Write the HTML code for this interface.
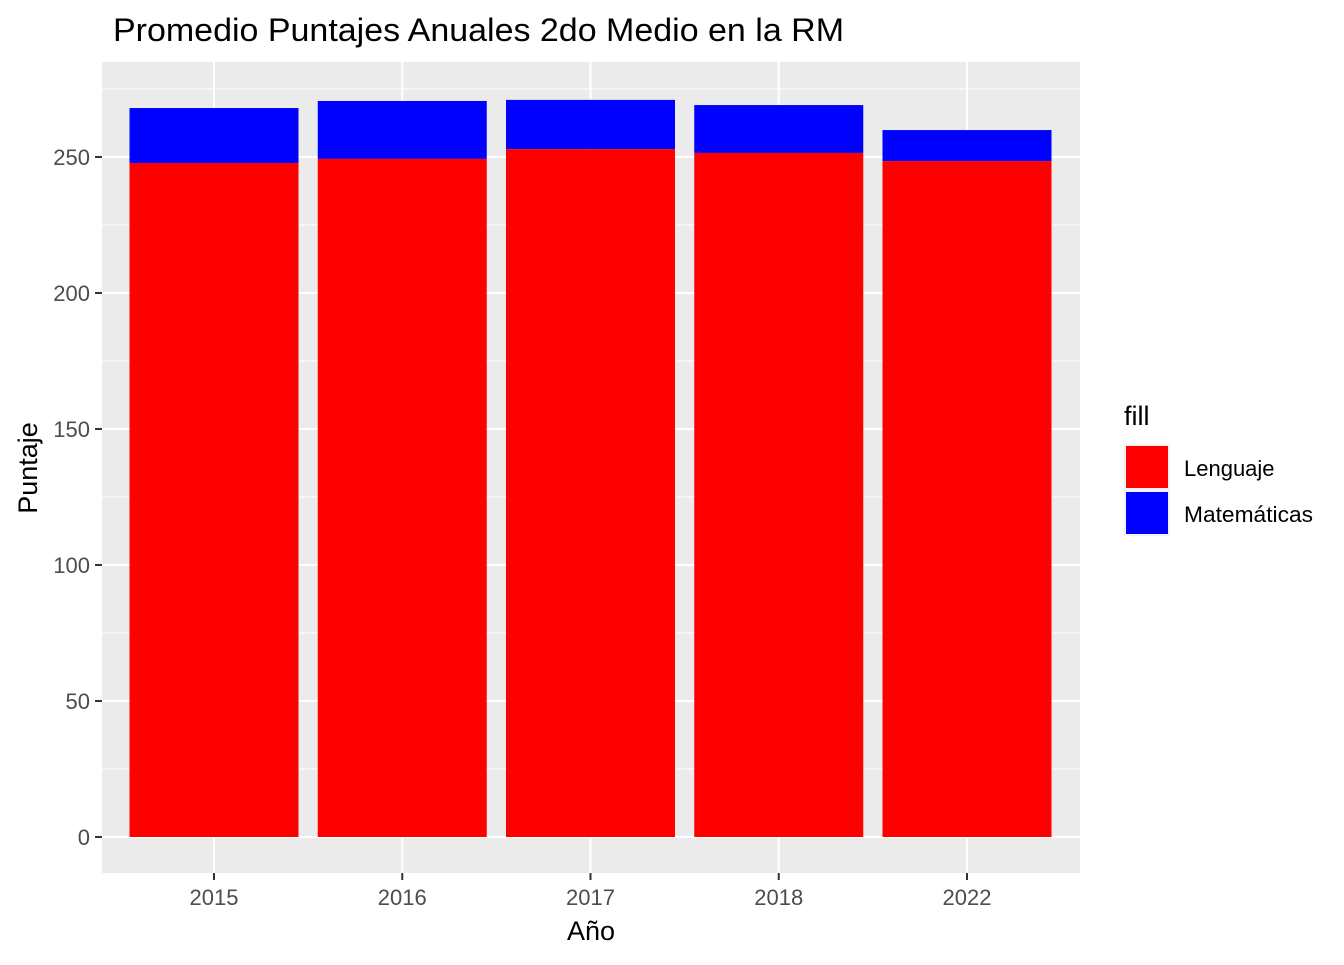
<!DOCTYPE html>
<html><head><meta charset="utf-8"><style>
body{margin:0;background:#fff;}
svg text{font-family:"Liberation Sans",Arial,sans-serif;}
</style></head><body>
<svg id="chart" width="1344" height="960" xmlns="http://www.w3.org/2000/svg">
<text x="113" y="41" font-size="32" textLength="731" lengthAdjust="spacingAndGlyphs" fill="#000">Promedio Puntajes Anuales 2do Medio en la RM</text>
<rect x="102" y="62" width="978" height="811" fill="#ebebeb"/>
<g id="grid"></g><g id="bars"></g><g id="axes"></g>
<text x="591" y="940" font-size="27" text-anchor="middle" fill="#000">Año</text>
<text transform="translate(37,468) rotate(-90)" font-size="27" text-anchor="middle" fill="#000">Puntaje</text>
<g>
<text x="1124" y="425" font-size="27" fill="#000">fill</text>
<rect x="1124" y="444" width="46" height="46" fill="#f2f2f2"/>
<rect x="1126" y="446" width="42" height="42" fill="#ff0000"/>
<text x="1184" y="476" font-size="22" fill="#000">Lenguaje</text>
<rect x="1124" y="490" width="46" height="46" fill="#f2f2f2"/>
<rect x="1126" y="492" width="42" height="42" fill="#0000ff"/>
<text x="1184" y="522" font-size="22" textLength="129" lengthAdjust="spacingAndGlyphs" fill="#000">Matemáticas</text>
</g>
</svg>
<script>
const categories=["2015","2016","2017","2018","2022"];
const lenguaje=[247.8,249.3,252.9,251.5,248.5];
const matematicas=[268.0,270.6,271.0,269.1,259.9];
const yTicks=[0,50,100,150,200,250];
const NS="http://www.w3.org/2000/svg";
const y=v=>837-v*2.72;
const step=188.25, x=i=>214+i*step, bw=169;
function mk(tag,attrs,parent){const e=document.createElementNS(NS,tag);for(const k in attrs)e.setAttribute(k,attrs[k]);parent.appendChild(e);return e;}
const grid=document.getElementById('grid'),bars=document.getElementById('bars'),axes=document.getElementById('axes');
for(let v=25;v<=275;v+=50){const l=mk('line',{x1:102,x2:1080,y1:y(v),y2:y(v),stroke:'#fff','stroke-width':1},grid);

}
yTicks.forEach(v=>{const l=mk('line',{x1:102,x2:1080,y1:y(v),y2:y(v),stroke:'#fff','stroke-width':2},grid);


const t=mk('line',{x1:95,x2:102,y1:y(v),y2:y(v),stroke:'#333','stroke-width':2},axes);


const tx=mk('text',{x:90,y:y(v)+8,'font-size':22,'text-anchor':'end',fill:'#4d4d4d'},axes);tx.textContent=v;

});
categories.forEach((c,i)=>{const l=mk('line',{x1:x(i),x2:x(i),y1:62,y2:873,stroke:'#fff','stroke-width':2},grid);


const b=mk('rect',{x:x(i)-bw/2,y:y(matematicas[i]),width:bw,height:y(lenguaje[i])-y(matematicas[i]),fill:'#0000ff'},bars);


const r=mk('rect',{x:x(i)-bw/2,y:y(lenguaje[i]),width:bw,height:y(0)-y(lenguaje[i]),fill:'#ff0000'},bars);


const t=mk('line',{x1:x(i),x2:x(i),y1:873,y2:880,stroke:'#333','stroke-width':2},axes);


const tx=mk('text',{x:x(i),y:905,'font-size':22,'text-anchor':'middle',fill:'#4d4d4d'},axes);tx.textContent=c;

});
</script>
</body></html>
